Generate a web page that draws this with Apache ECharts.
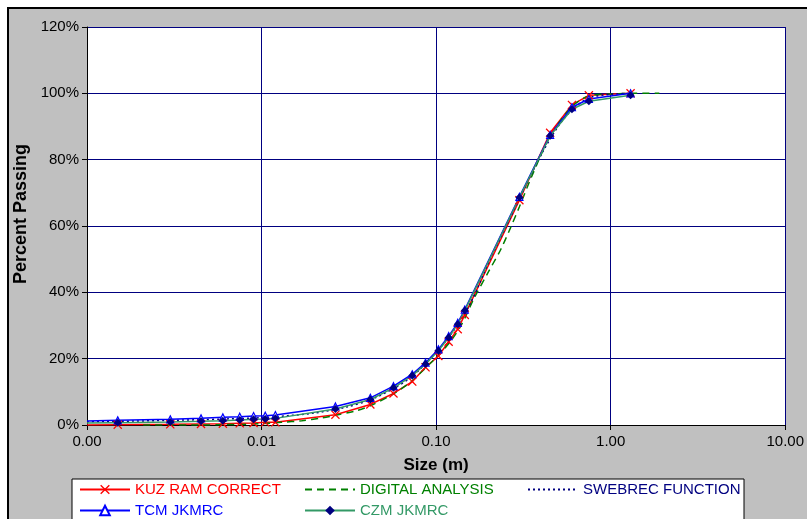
<!DOCTYPE html>
<html>
<head>
<meta charset="utf-8">
<title>Percent Passing</title>
<script src="https://cdn.jsdelivr.net/npm/echarts/dist/echarts.min.js"></script>
<style>
  html, body { margin: 0; padding: 0; background: #fff; }
  #chart { width: 807px; height: 519px; }
</style>
</head>
<body>
<div id="chart"></div>
<script>
// sieve sizes (m) shared by the measured curves
var sieveSizes = [0.001, 0.0015, 0.003, 0.0045, 0.006, 0.0075, 0.009, 0.0105, 0.012, 0.0265, 0.042, 0.057, 0.073, 0.087, 0.103, 0.118, 0.133, 0.146, 0.3, 0.45, 0.6, 0.75, 1.3];
var kuzRam = [0, 0.1, 0.2, 0.3, 0.4, 0.5, 0.6, 0.8, 0.8, 3.1, 6.2, 9.5, 13.1, 17.4, 20.8, 25.1, 28.9, 33.2, 67.8, 88.1, 96.5, 99.4, 100];
var tcm = [1.2, 1.4, 1.7, 2.0, 2.3, 2.5, 2.7, 2.8, 3.0, 5.6, 8.2, 11.7, 15.3, 18.8, 22.8, 26.8, 30.8, 34.8, 68.8, 87.5, 95.8, 98.3, 100];
var czm = [0.6, 0.7, 0.9, 1.1, 1.3, 1.5, 1.7, 1.8, 2.0, 4.8, 7.7, 11.2, 14.9, 18.4, 22.4, 26.4, 30.4, 34.5, 68.6, 87.2, 95.2, 97.6, 99.4];

// digital analysis curve
var digitalSizes = [0.0021, 0.003, 0.0045, 0.006, 0.008, 0.01, 0.013, 0.017, 0.022, 0.027, 0.035, 0.042, 0.057, 0.073, 0.087, 0.1, 0.12, 0.14, 0.165, 0.2, 0.235, 0.267, 0.3, 0.35, 0.45, 0.6, 0.75, 1.0, 1.4, 1.9];
var digital = [0, 0, 0, 0.1, 0.2, 0.4, 0.8, 1.3, 2.1, 3.0, 4.3, 5.8, 9.4, 13.4, 17.2, 20.3, 25.0, 30.3, 38.2, 46.3, 53.0, 59.5, 65.8, 74.5, 87.0, 96.0, 99.2, 99.8, 100, 100];

// swebrec function curve
var swebrecSizes = [0.001, 0.0015, 0.003, 0.0045, 0.006, 0.009, 0.012, 0.02, 0.03, 0.042, 0.057, 0.073, 0.1, 0.13, 0.16, 0.2, 0.25, 0.3, 0.4, 0.5, 0.6, 0.75, 1.0, 1.3];
var swebrec = [1.0, 1.1, 1.4, 1.6, 1.8, 2.1, 2.5, 3.6, 5.3, 7.6, 11.0, 14.7, 21.8, 29.5, 37.5, 49.0, 59.5, 68.2, 81.5, 90.0, 95.0, 98.6, 99.7, 100];

var xTicks = [0.001, 0.01, 0.1, 1, 10];
var yTicks = [0, 20, 40, 60, 80, 100, 120];

function pairs(xs, ys, hideFirst) {
  return xs.map(function (x, i) {
    var p = { value: [x, ys[i]] };
    if (hideFirst && i == 0) p.symbol = 'none';
    return p;
  });
}

var crossPath = 'path://M0,1L1,0L5,4L9,0L10,1L6,5L10,9L9,10L5,6L1,10L0,9L4,5Z';
var noMark = 'path://M0,0L1,1'; // zero-area symbol so the legend shows only the line
var font = 'Liberation Sans';

var chart = echarts.init(document.getElementById('chart'));

function legendAt(name, color, left, top) {
  return {
    left: left, top: top, padding: 0,
    itemWidth: 50, itemHeight: 12,
    textStyle: { fontFamily: font, fontSize: 15, color: color },
    data: [name],
    selectedMode: false
  };
}

var option = {
  backgroundColor: '#fff',
  animation: false,
  graphic: [
    { type: 'rect', z: -10, shape: { x: 8, y: 8, width: 830, height: 540 },
      style: { fill: '#C0C0C0', stroke: '#000', lineWidth: 2 } },
    { type: 'rect', z: -5, shape: { x: 72, y: 479, width: 672, height: 60 },
      style: { fill: '#fff', stroke: '#000', lineWidth: 1 } }
  ],
  legend: [
    legendAt('KUZ RAM CORRECT', '#FF0000', 79, 482),
    legendAt('DIGITAL ANALYSIS', '#008000', 304, 482),
    legendAt('SWEBREC FUNCTION', '#000080', 527, 482),
    legendAt('TCM JKMRC', '#0000FF', 79, 503),
    legendAt('CZM JKMRC', '#339966', 304, 503)
  ],
  grid: {
    left: 87, right: 20, top: 27, bottom: 94,
    show: true, backgroundColor: '#fff', borderWidth: 0
  },
  xAxis: {
    type: 'log', logBase: 10,
    min: xTicks[0], max: xTicks[xTicks.length - 1],
    name: 'Size (m)', nameLocation: 'middle', nameGap: 32,
    nameTextStyle: { fontFamily: font, fontSize: 17, fontWeight: 'bold', color: '#000' },
    axisLine: { lineStyle: { color: '#000', width: 1 } },
    axisTick: { show: true, length: 5, lineStyle: { color: '#000' } },
    axisLabel: {
      fontFamily: font, fontSize: 15, color: '#000', margin: 9,
      formatter: function (v) { return v.toFixed(2); }
    },
    splitLine: { show: true, lineStyle: { color: '#000080', width: 1 } },
    minorTick: { show: false }
  },
  yAxis: {
    type: 'value', min: yTicks[0], max: yTicks[yTicks.length - 1], interval: 20,
    name: 'Percent Passing', nameLocation: 'middle', nameGap: 43,
    nameTextStyle: { fontFamily: font, fontSize: 18, fontWeight: 'bold', color: '#000', padding: [0, 0, 0, 24] },
    axisLine: { show: true, lineStyle: { color: '#000', width: 1 } },
    axisTick: { show: true, length: 5, lineStyle: { color: '#000' } },
    axisLabel: { fontFamily: font, fontSize: 15, color: '#000', margin: 8, formatter: '{value}%' },
    splitLine: { show: true, lineStyle: { color: '#000080', width: 1 } }
  },
  series: [
    {
      name: 'KUZ RAM CORRECT', type: 'line',
      data: pairs(sieveSizes, kuzRam, true),
      symbol: crossPath, symbolSize: 9,
      itemStyle: { color: '#FF0000' },
      lineStyle: { color: '#FF0000', width: 1.5 }
    },
    {
      name: 'DIGITAL ANALYSIS', type: 'line',
      data: pairs(digitalSizes, digital, false),
      symbol: noMark, showSymbol: false, smooth: 0.3,
      itemStyle: { color: '#008000', borderWidth: 0 },
      lineStyle: { color: '#008000', width: 1.5, type: [7, 5] }
    },
    {
      name: 'SWEBREC FUNCTION', type: 'line',
      data: pairs(swebrecSizes, swebrec, false),
      symbol: noMark, showSymbol: false, smooth: 0.3,
      itemStyle: { color: '#000080', borderWidth: 0 },
      lineStyle: { color: '#000080', width: 1.5, type: [2, 3] }
    },
    {
      name: 'TCM JKMRC', type: 'line',
      data: pairs(sieveSizes, tcm, true),
      symbol: 'triangle', symbolSize: 7,
      itemStyle: { color: '#fff', borderColor: '#0000FF', borderWidth: 1.2 },
      lineStyle: { color: '#0000FF', width: 1.5 }
    },
    {
      name: 'CZM JKMRC', type: 'line',
      data: pairs(sieveSizes, czm, true),
      symbol: 'diamond', symbolSize: 8,
      itemStyle: { color: '#000080' },
      lineStyle: { color: '#339966', width: 1.5 }
    }
  ]
};

chart.setOption(option);
</script>
</body>
</html>
